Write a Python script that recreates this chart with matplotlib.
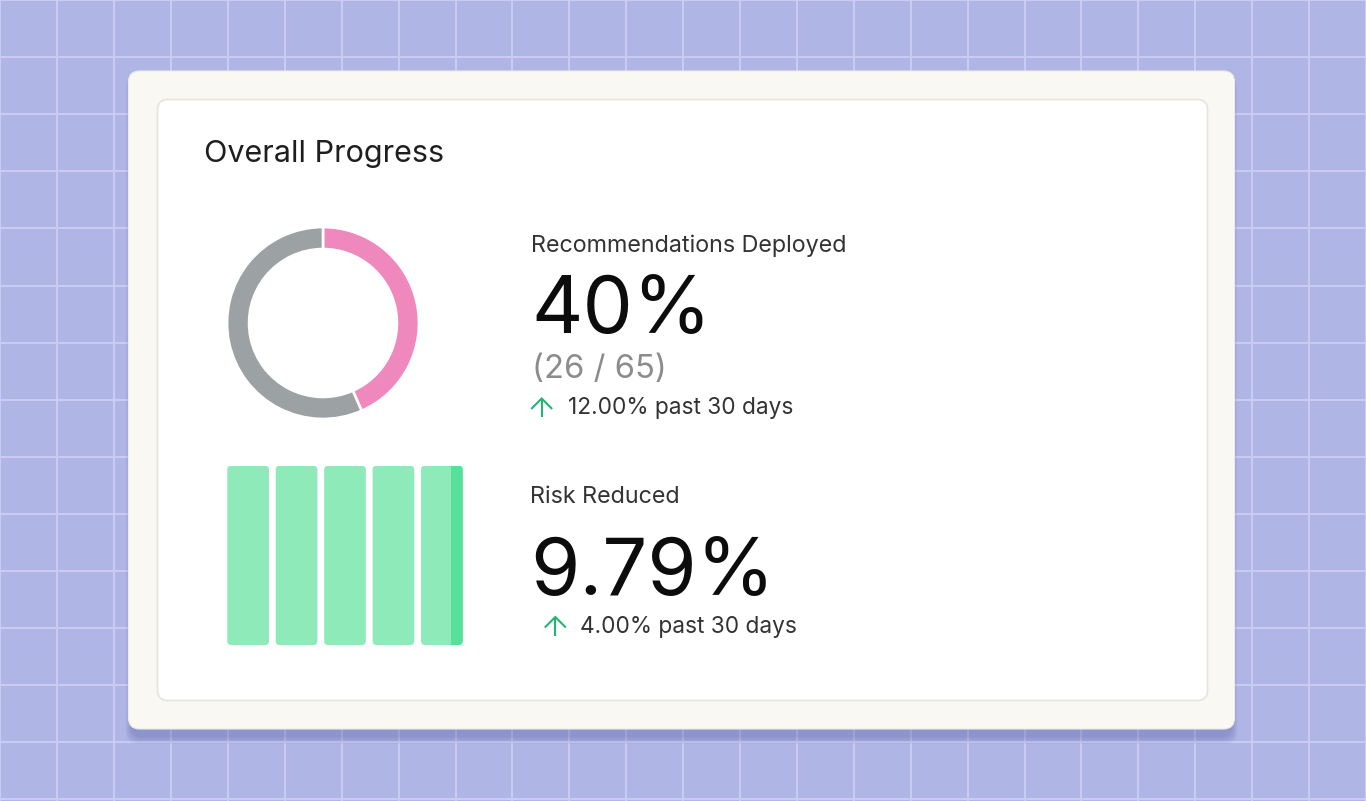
import numpy as np
import matplotlib
matplotlib.use("Agg")
import matplotlib.pyplot as plt
from matplotlib.patches import FancyBboxPatch

# ---------------- data ----------------
title = "Overall Progress"
rec_label = "Recommendations Deployed"
rec_value = "40%"
rec_count = "(26 / 65)"
rec_change = "12.00% past 30 days"
ring_labels = ["Deployed", "Remaining"]
ring_shares = [43.4, 56.6]          # share of the ring as drawn
risk_label = "Risk Reduced"
risk_value = "9.79%"
risk_change = "4.00% past 30 days"
risk_blocks = [1, 1, 1, 1, 1]       # five equal blocks
risk_highlight = 0.28               # highlighted fraction of the last block

# ---------------- style ----------------
W, H = 1366, 801
BG = "#AFB5E5"
GRIDC = "#C9CCF0"
CARD_OUT = "#FAF8F3"
CARD_IN = "#FFFFFF"
CARD_EDGE = "#E7E5DD"
PINK = "#EF88BC"
GRAY = "#9CA1A4"
GREEN_L = "#8EEAB8"
GREEN_D = "#57E09A"
ARROW = "#22B573"
FONT = ["Inter", "DejaVu Sans"]

fig = plt.figure(figsize=(W / 100, H / 100), dpi=100)
fig.patch.set_facecolor(BG)

ax0 = fig.add_axes([0, 0, 1, 1])
ax0.set_xlim(0, W)
ax0.set_ylim(H, 0)
ax0.axis("off")
ax0.set_facecolor(BG)

# background grid
for gx in np.arange(0.3, W + 1, 56.9):
    ax0.axvline(gx, color=GRIDC, lw=1.5, zorder=0)
for gy in np.arange(0.0, H + 1, 57.1):
    ax0.axhline(gy, color=GRIDC, lw=1.5, zorder=0)

# outer card shadow
for i in range(10):
    s = i * 1.3
    ax0.add_patch(FancyBboxPatch((128.5 - s * 0.5 + 3, 71 + 8 - s * 0.3),
                                 1106 + s * 1.0 - 6, 658 + s * 0.9,
                                 boxstyle="round,pad=0,rounding_size=12",
                                 facecolor="#5c62a8", edgecolor="none",
                                 alpha=0.045, zorder=1))
# outer card
ax0.add_patch(FancyBboxPatch((128.5, 71), 1106, 658,
                             boxstyle="round,pad=0,rounding_size=11",
                             facecolor=CARD_OUT, edgecolor="#ECEAE3", lw=0.8, zorder=2))
# inner card
ax0.add_patch(FancyBboxPatch((157.5, 99.5), 1050, 601,
                             boxstyle="round,pad=0,rounding_size=10",
                             facecolor=CARD_IN, edgecolor=CARD_EDGE, lw=1.3, zorder=3))

# ---------------- texts ----------------
def txt(x, y, s, size, color, weight="normal"):
    ax0.text(x, y, s, fontsize=size, color=color, family=FONT, weight=weight,
             ha="left", va="baseline", zorder=5)

def up_arrow(xc, ytop, ybot, half):
    ax0.plot([xc, xc], [ybot, ytop + 0.8], color=ARROW, lw=1.5,
             solid_capstyle="butt", zorder=5)
    ax0.plot([xc - half, xc, xc + half], [ytop + half, ytop, ytop + half],
             color=ARROW, lw=1.5, solid_joinstyle="miter", solid_capstyle="butt",
             zorder=5)

txt(204, 162, title, 22.0, "#1E1E1E")
txt(531, 251.7, rec_label, 16.8, "#333333")
txt(531, 333.3, rec_value, 57.5, "#0C0C0C")
txt(532, 378.5, rec_count, 23.6, "#8C8C8C")
up_arrow(541.7, 398.5, 417.0, 10.5)
txt(568, 414.3, rec_change, 16.3, "#333333")

txt(530, 503.3, risk_label, 16.8, "#333333")
txt(530, 595, risk_value, 57.3, "#0C0C0C")
up_arrow(555.3, 617.0, 635.5, 10.5)
txt(580.5, 633.3, risk_change, 16.3, "#333333")

# ---------------- donut ----------------
cx, cy, R = 323, 323, 95
axd = fig.add_axes([(cx - R) / W, (H - cy - R) / H, 2 * R / W, 2 * R / H])
axd.pie(ring_shares, colors=[PINK, GRAY], startangle=90, counterclock=False,
        radius=1.01, wedgeprops=dict(width=22 / 95, edgecolor="white", linewidth=1.9))
axd.set_xlim(-1, 1)
axd.set_ylim(-1, 1)
axd.set_aspect("equal")
axd.axis("off")

# ---------------- blocks ----------------
bx0, bx1, by0, by1 = 227.3, 462.7, 465.7, 645.0
axb = fig.add_axes([bx0 / W, (H - by1) / H, (bx1 - bx0) / W, (by1 - by0) / H])
bw = 0.86
pos = np.arange(len(risk_blocks))
axb.set_xlim(pos[0] - bw / 2, pos[-1] + bw / 2)
axb.set_ylim(0, 1)
axb.axis("off")
bars = axb.bar(pos, risk_blocks, width=bw, color=GREEN_L)
px_per_x = (bx1 - bx0) / (axb.get_xlim()[1] - axb.get_xlim()[0])
px_per_y = (by1 - by0) / 1.0
aspect = px_per_x / px_per_y
rad = 4.0 / px_per_x
last_patch = None
for b in bars:
    x, y = b.get_x(), b.get_y()
    w, h = b.get_width(), b.get_height()
    b.set_visible(False)
    p = FancyBboxPatch((x, y), w, h,
                       boxstyle=f"round,pad=0,rounding_size={rad}",
                       mutation_aspect=aspect, facecolor=GREEN_L, edgecolor="none")
    axb.add_patch(p)
    last_patch = p
# highlighted strip at the right of the last block
lb = bars[-1]
hw = lb.get_width() * risk_highlight
hl = axb.bar(lb.get_x() + lb.get_width(), risk_blocks[-1], width=-hw, align="edge",
             color=GREEN_D, zorder=3)
for r in hl:
    r.set_clip_path(last_patch)

fig.savefig("out.png", dpi=100, facecolor=BG)
